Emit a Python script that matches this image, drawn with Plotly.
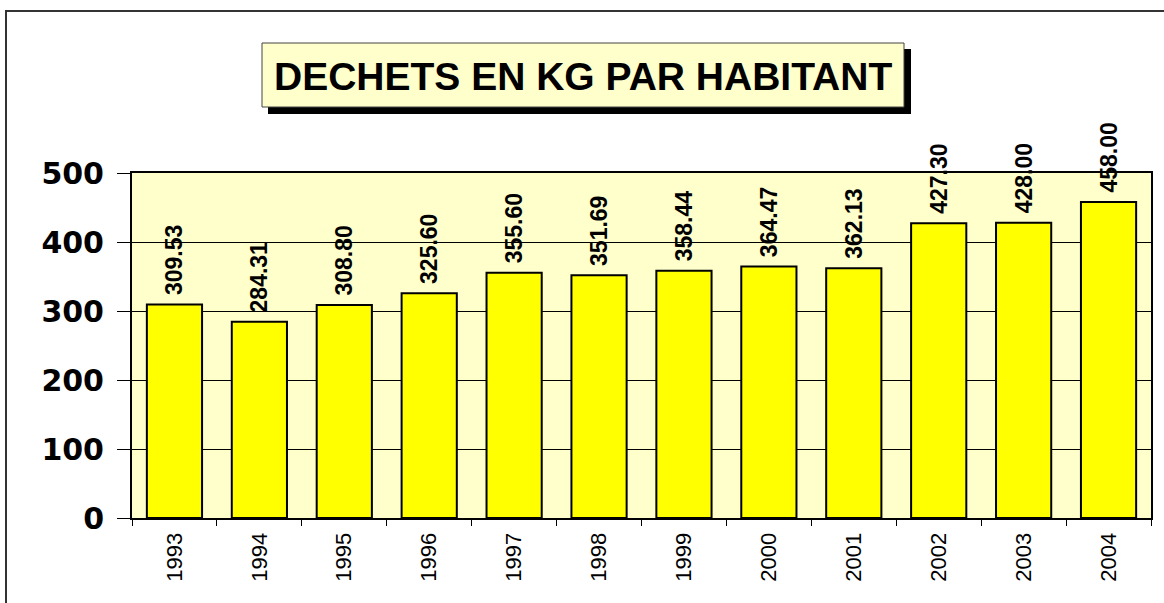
import plotly.graph_objects as go

years = ["1993", "1994", "1995", "1996", "1997", "1998", "1999", "2000", "2001", "2002", "2003", "2004"]
values = [309.53, 284.31, 308.80, 325.60, 355.60, 351.69, 358.44, 364.47, 362.13, 427.30, 428.00, 458.00]
labels = ["\u00a0" + f"{v:.2f}" for v in values]
title_text = "DECHETS EN KG PAR HABITANT"

W, H = 1164, 603
L, R, T, B = 132, 1151, 173, 518
pw, ph = R - L, B - T

def px(x):
    return (x - L) / pw

def py(y):
    return (B - y) / ph

fig = go.Figure(go.Bar(
    x=years, y=values, text=labels, textposition="outside",
    textangle=-90, cliponaxis=False, constraintext="none",
    textfont=dict(family="Liberation Sans, Arial", size=23, color="black", weight="bold"),
    marker=dict(color="#FFFF00", line=dict(color="black", width=2)),
))

fig.update_layout(
    width=W, height=H,
    margin=dict(l=L, r=W - R, t=T, b=H - B, autoexpand=False),
    paper_bgcolor="white", plot_bgcolor="#FFFFCC",
    bargap=0.35, showlegend=False,
    xaxis=dict(type="category", tickson="boundaries", ticks="outside", ticklen=6,
               tickcolor="black", showline=True, linecolor="black", linewidth=2, mirror=True,
               tickangle=-90, ticklabelstandoff=4,
               tickfont=dict(family="Liberation Sans, Arial", size=22, color="black")),
    yaxis=dict(range=[0, 500], tickvals=[0, 100, 200, 300, 400, 500], ticks="outside",
               ticklen=13, tickcolor="black", showline=True, linecolor="black", linewidth=2,
               mirror=True, showgrid=True, gridcolor="black", gridwidth=1,
               zeroline=False, ticklabelstandoff=7,
               tickfont=dict(family="DejaVu Sans", size=30, color="black", weight="bold")),
    shapes=[
        dict(type="rect", xref="paper", yref="paper", x0=px(6), x1=px(1172), y0=py(612), y1=py(11),
             line=dict(color="#333333", width=2), fillcolor="rgba(0,0,0,0)", layer="below"),
        dict(type="rect", xref="paper", yref="paper", x0=px(268), x1=px(911), y0=py(114), y1=py(49),
             line=dict(width=0), fillcolor="black"),
        dict(type="rect", xref="paper", yref="paper", x0=px(262), x1=px(904), y0=py(107), y1=py(43),
             line=dict(color="#444444", width=1), fillcolor="#FFFFCC"),
    ],
    annotations=[
        dict(text=title_text, xref="paper", yref="paper", x=px(583), y=py(76),
             xanchor="center", yanchor="middle", showarrow=False,
             font=dict(family="Liberation Sans, Arial", size=39, color="black", weight="bold")),
    ],
)

fig.write_html("out.html", config={"displayModeBar": False},
               post_script="document.body.style.margin='0';document.body.style.overflow='hidden';")
